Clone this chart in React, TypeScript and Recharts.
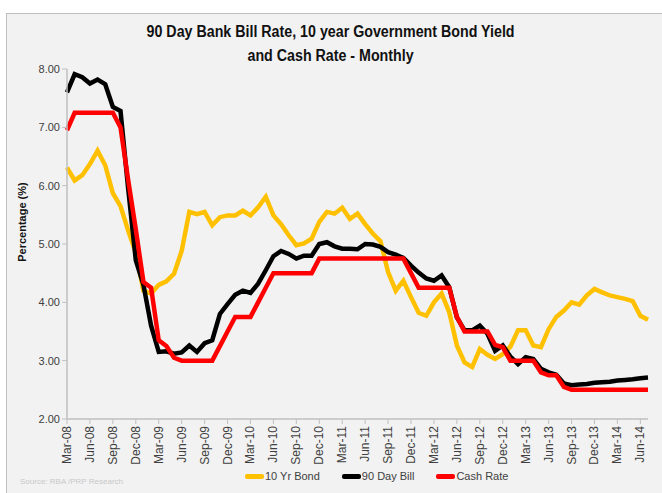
import React from "react"
import { CartesianGrid, Line, LineChart, XAxis, YAxis } from "recharts"

// monthly labels, Mar-08 .. Jul-14
const months = [
  "Mar-08", "Apr-08", "May-08", "Jun-08", "Jul-08", "Aug-08", "Sep-08", "Oct-08", "Nov-08", "Dec-08",
  "Jan-09", "Feb-09", "Mar-09", "Apr-09", "May-09", "Jun-09", "Jul-09", "Aug-09", "Sep-09", "Oct-09", "Nov-09", "Dec-09",
  "Jan-10", "Feb-10", "Mar-10", "Apr-10", "May-10", "Jun-10", "Jul-10", "Aug-10", "Sep-10", "Oct-10", "Nov-10", "Dec-10",
  "Jan-11", "Feb-11", "Mar-11", "Apr-11", "May-11", "Jun-11", "Jul-11", "Aug-11", "Sep-11", "Oct-11", "Nov-11", "Dec-11",
  "Jan-12", "Feb-12", "Mar-12", "Apr-12", "May-12", "Jun-12", "Jul-12", "Aug-12", "Sep-12", "Oct-12", "Nov-12", "Dec-12",
  "Jan-13", "Feb-13", "Mar-13", "Apr-13", "May-13", "Jun-13", "Jul-13", "Aug-13", "Sep-13", "Oct-13", "Nov-13", "Dec-13",
  "Jan-14", "Feb-14", "Mar-14", "Apr-14", "May-14", "Jun-14", "Jul-14",
]

const bond10y = [
  6.31, 6.09, 6.18, 6.37, 6.6, 6.35, 5.87, 5.65, 5.23, 4.85,
  4.2, 4.15, 4.3, 4.36, 4.49, 4.88, 5.55, 5.51, 5.55, 5.32, 5.46, 5.49,
  5.49, 5.57, 5.49, 5.63, 5.81, 5.49, 5.34, 5.15, 4.98, 5.01, 5.09, 5.38,
  5.55, 5.52, 5.62, 5.43, 5.52, 5.34, 5.18, 5.05, 4.52, 4.2, 4.37, 4.09,
  3.82, 3.77, 4.0, 4.15, 3.83, 3.26, 2.97, 2.89, 3.2, 3.1, 3.03, 3.11,
  3.24, 3.52, 3.52, 3.26, 3.23, 3.54, 3.75, 3.86, 4.0, 3.96, 4.12, 4.23,
  4.17, 4.12, 4.09, 4.06, 4.02, 3.77, 3.7,
]

const bill90d = [
  7.6, 7.91, 7.86, 7.75, 7.82, 7.74, 7.35, 7.28, 5.95, 4.72,
  4.3, 3.6, 3.15, 3.16, 3.12, 3.14, 3.26, 3.15, 3.3, 3.35, 3.8, 3.97,
  4.13, 4.2, 4.16, 4.32, 4.55, 4.79, 4.88, 4.83, 4.75, 4.8, 4.8, 5.0,
  5.03, 4.96, 4.92, 4.92, 4.91, 5.0, 4.99, 4.95, 4.86, 4.82, 4.76, 4.63,
  4.51, 4.41, 4.37, 4.46, 4.26, 3.74, 3.52, 3.52, 3.6, 3.46, 3.17, 3.26,
  3.07, 2.94, 3.06, 3.03, 2.86, 2.8, 2.76, 2.61, 2.58, 2.59, 2.6, 2.62,
  2.63, 2.64, 2.66, 2.67, 2.68, 2.7, 2.71,
]

const cashRate = [
  6.95, 7.25, 7.25, 7.25, 7.25, 7.25, 7.25, 7.0, 6.1, 5.25,
  4.35, 4.25, 3.35, 3.25, 3.05, 3.0, 3.0, 3.0, 3.0, 3.0, 3.25, 3.5,
  3.75, 3.75, 3.75, 4.0, 4.25, 4.5, 4.5, 4.5, 4.5, 4.5, 4.5, 4.75,
  4.75, 4.75, 4.75, 4.75, 4.75, 4.75, 4.75, 4.75, 4.75, 4.75, 4.75, 4.5,
  4.25, 4.25, 4.25, 4.25, 4.25, 3.75, 3.5, 3.5, 3.5, 3.5, 3.27, 3.23,
  3.0, 3.0, 3.0, 3.0, 2.8, 2.75, 2.75, 2.55, 2.5, 2.5, 2.5, 2.5,
  2.5, 2.5, 2.5, 2.5, 2.5, 2.5, 2.5,
]

const yTicks = [2, 3, 4, 5, 6, 7, 8]

const series = [
  { key: "bond", name: "10 Yr Bond", color: "#FFC000" },
  { key: "bill", name: "90 Day Bill", color: "#000000" },
  { key: "cash", name: "Cash Rate", color: "#FF0000" },
]

const data = months.map((m, i) => ({
  month: m,
  bond: bond10y[i],
  bill: bill90d[i],
  cash: cashRate[i],
}))

const font = "'Liberation Sans', Arial, sans-serif"
const axisGrey = "#BFBFBF"

function MonthTick({ x, y, payload }: any) {
  return (
    <text
      x={x}
      y={y}
      dy={4}
      transform={`rotate(-90 ${x} ${y})`}
      textAnchor="end"
      fontSize={12}
      fontFamily={font}
      fill="#404040"
    >
      {payload.value}
    </text>
  )
}

export default function App() {
  return (
    <div style={{ position: "absolute", left: 0, top: 0, width: 662, height: 493, background: "#fff", overflow: "hidden" }}>
      <div
        style={{
          position: "absolute",
          left: 6,
          top: 13,
          width: 670,
          height: 490,
          background: "#F2F2F2",
          border: "1px solid #BFBFBF",
        }}
      />
      <div
        style={{
          position: "absolute",
          left: 0,
          top: 20,
          width: 662,
          textAlign: "center",
          fontFamily: font,
          fontWeight: "bold",
          fontSize: 16,
          lineHeight: "24px",
          color: "#111",
          transform: "scaleX(0.89)",
          transformOrigin: "327px 0",
        }}
      >
        90 Day Bank Bill Rate, 10 year Government Bond Yield
        <br />
        and Cash Rate - Monthly
      </div>

      <div style={{ position: "absolute", left: 0, top: 0 }}>
        <LineChart width={662} height={493} data={data} margin={{ top: 69, right: 14, bottom: 0, left: 7 }}>
          <CartesianGrid stroke="none" />
          <XAxis
            dataKey="month"
            interval={2}
            height={74}
            tick={<MonthTick />}
            tickSize={5}
            tickLine={{ stroke: axisGrey }}
            axisLine={{ stroke: axisGrey, strokeWidth: 1.5 }}
          />
          <YAxis
            domain={[2, 8]}
            ticks={yTicks}
            width={60}
            tickSize={5}
            tickFormatter={(v: number) => v.toFixed(2)}
            tick={{ fontSize: 11, fontFamily: font, fill: "#404040" }}
            tickLine={{ stroke: axisGrey }}
            axisLine={{ stroke: axisGrey, strokeWidth: 1.5 }}
          />
          {series.map((s) => (
            <Line
              key={s.key}
              type="linear"
              dataKey={s.key}
              name={s.name}
              stroke={s.color}
              strokeWidth={4.5}
              dot={false}
              isAnimationActive={false}
            />
          ))}
        </LineChart>
      </div>

      <div
        style={{
          position: "absolute",
          left: 22,
          top: 222,
          transform: "translate(-50%, -50%) rotate(-90deg)",
          whiteSpace: "nowrap",
          fontFamily: font,
          fontWeight: "bold",
          fontSize: 11,
          color: "#111",
        }}
      >
        Percentage (%)
      </div>

      <div
        style={{
          position: "absolute",
          left: 245,
          top: 470,
          display: "flex",
          alignItems: "center",
          fontFamily: font,
          fontSize: 11,
          color: "#404040",
        }}
      >
        {series.map((s, i) => (
          <div key={s.key} style={{ display: "flex", alignItems: "center", marginRight: i < 2 ? 22 : 0 }}>
            <span style={{ display: "inline-block", width: 19, height: 5, background: s.color, borderRadius: 2 }} />
            <span style={{ marginLeft: 1 }}>{s.name}</span>
          </div>
        ))}
      </div>

      <div
        style={{
          position: "absolute",
          left: 20,
          top: 477,
          fontFamily: font,
          fontSize: 8,
          color: "#C8C8C8",
        }}
      >
        Source: RBA /PRP Research
      </div>
    </div>
  )
}
